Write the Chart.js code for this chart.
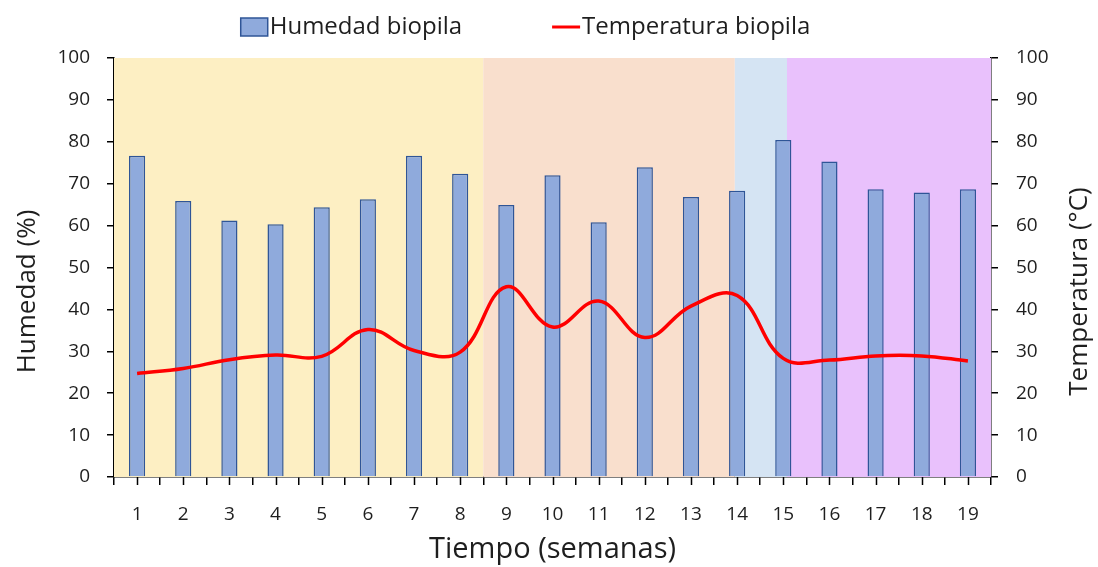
<!DOCTYPE html>
<html>
<head>
<meta charset="utf-8">
<script src="https://cdn.jsdelivr.net/npm/chart.js@4.4.1/dist/chart.umd.min.js"></script>
<style>
  html, body { margin: 0; padding: 0; background: #fff; }
  #wrap { width: 1098px; height: 567px; }
</style>
</head>
<body>
<div id="wrap"><canvas id="chartBiopila"></canvas></div>
<script>
const semanas = ['1', '2', '3', '4', '5', '6', '7', '8', '9', '10', '11', '12', '13', '14', '15', '16', '17', '18', '19'];
const humedad = [76.7, 65.9, 61.2, 60.3, 64.4, 66.3, 76.7, 72.4, 64.9, 72.0, 60.8, 73.9, 66.8, 68.3, 80.4, 75.3, 68.7, 67.9, 68.7];
const temperatura = [24.7, 25.9, 28.0, 29.1, 28.8, 35.2, 30.2, 29.8, 45.4, 35.8, 42.0, 33.3, 40.8, 43.3, 28.3, 27.9, 28.9, 28.9, 27.7];

// fases del proceso (en semanas)
const fasesInicio = [0.5, 8.5, 13.95, 15.08];
const fasesFin = [8.5, 13.95, 15.08, 19.5];
const fasesColor = ['#FDEFC3', '#F9DFCD', '#D5E4F3', '#E9C1FC'];

const fuente = "'Open Sans', sans-serif";
const colorTexto = '#1e1e1e';

const fondoFases = {
    id: 'fondoFases',
    beforeDatasetsDraw(chart) {
        const { ctx, chartArea, scales } = chart;
        ctx.save();
        for (let i = 0; i < fasesInicio.length; i++) {
            const x0 = scales.x.getPixelForValue(fasesInicio[i] - 1);
            const x1 = scales.x.getPixelForValue(fasesFin[i] - 1);
            ctx.fillStyle = fasesColor[i];
            ctx.fillRect(x0, chartArea.top, x1 - x0, chartArea.bottom - chartArea.top);
        }
        ctx.restore();
    }
};

// marcas pequeñas en el centro de cada semana
const marcasCentro = {
    id: 'marcasCentro',
    afterDraw(chart) {
        const { ctx, chartArea, scales } = chart;
        ctx.save();
        ctx.strokeStyle = '#000';
        ctx.lineWidth = 1.5;
        ctx.beginPath();
        semanas.forEach((s, i) => {
            const x = Math.round(scales.x.getPixelForValue(i)) + 0.5;
            ctx.moveTo(x, chartArea.bottom);
            ctx.lineTo(x, chartArea.bottom + 8);
        });
        ctx.stroke();
        ctx.restore();
    }
};

// titulos verticales (los dos leen de abajo hacia arriba, como en Excel)
const titulosY = {
    id: 'titulosY',
    afterDraw(chart) {
        const { ctx, chartArea } = chart;
        const yc = (chartArea.top + chartArea.bottom) / 2 + 24;
        ctx.save();
        ctx.font = `26px ${fuente}`;
        ctx.fillStyle = colorTexto;
        ctx.textAlign = 'center';
        ctx.textBaseline = 'middle';
        [['Humedad (%)', chartArea.left - 86], ['Temperatura (°C)', chartArea.right + 89]].forEach(([txt, xc]) => {
            ctx.save();
            ctx.translate(xc, yc);
            ctx.rotate(-Math.PI / 2);
            ctx.fillText(txt, 0, 0);
            ctx.restore();
        });
        ctx.restore();
    }
};

// leyenda arriba
const leyenda = {
    id: 'leyenda',
    afterDraw(chart) {
        const { ctx, chartArea } = chart;
        const bar = chart.data.datasets[1];
        const line = chart.data.datasets[0];
        const gap = 90;
        ctx.save();
        ctx.font = `24px ${fuente}`;
        ctx.textBaseline = 'middle';
        const w1 = ctx.measureText(bar.label).width;
        const w2 = ctx.measureText(line.label).width;
        const total = 27 + 3 + w1 + gap + 28 + 3 + w2;
        let x = (chartArea.left + chartArea.right) / 2 - 26 - total / 2;
        const y = 27;
        ctx.fillStyle = bar.backgroundColor;
        ctx.strokeStyle = bar.borderColor;
        ctx.lineWidth = 1.5;
        ctx.fillRect(x, y - 9, 27, 18);
        ctx.strokeRect(x, y - 9, 27, 18);
        x += 29;
        ctx.fillStyle = colorTexto;
        ctx.fillText(bar.label, x, y);
        x += w1 + gap;
        ctx.strokeStyle = line.borderColor;
        ctx.lineWidth = 3;
        ctx.beginPath();
        ctx.moveTo(x, y);
        ctx.lineTo(x + 28, y);
        ctx.stroke();
        x += 30;
        ctx.fillText(line.label, x, y);
        ctx.restore();
    }
};

const data = {
    labels: semanas,
    datasets: [{
        type: 'line',
        label: 'Temperatura biopila',
        data: temperatura,
        yAxisID: 'y1',
        borderColor: '#FF0000',
        backgroundColor: '#FF0000',
        borderWidth: 3.5,
        pointRadius: 0,
        tension: 0.4,
        order: 0
    }, {
        type: 'bar',
        label: 'Humedad biopila',
        data: humedad,
        yAxisID: 'y',
        backgroundColor: '#8FAADC',
        borderColor: '#2F5597',
        borderWidth: 1.5,
        categoryPercentage: 1,
        barPercentage: 0.35,
        order: 1
    }]
};

const config = {
    data: data,
    options: {
        responsive: true,
        maintainAspectRatio: false,
        animation: false,
        layout: { padding: { top: 58, right: 0, left: 0, bottom: 0 } },
        plugins: {
            legend: { display: false },
            tooltip: { enabled: false }
        },
        scales: {
            x: {
                type: 'category',
                offset: true,
                grid: { display: true, offset: true, drawOnChartArea: false, color: '#000', lineWidth: 1.5, tickLength: 8 },
                border: { color: '#000', width: 1.5 },
                ticks: { color: colorTexto, font: { family: fuente, size: 19 }, padding: 18, maxRotation: 0 },
                title: { display: true, text: 'Tiempo (semanas)', color: colorTexto, font: { family: fuente, size: 29 }, padding: { top: 0, bottom: 0 } },
                afterFit: (scale) => { scale.height = 90; }
            },
            y: {
                position: 'left',
                min: 0,
                max: 100,
                ticks: { stepSize: 10, color: colorTexto, font: { family: fuente, size: 19 }, padding: 17 },
                grid: { drawOnChartArea: false, color: '#000', lineWidth: 1.5, tickLength: 7 },
                border: { color: '#000', width: 1.5 },
                afterFit: (scale) => { scale.width = 114; }
            },
            y1: {
                position: 'right',
                min: 0,
                max: 100,
                ticks: { stepSize: 10, color: colorTexto, font: { family: fuente, size: 19 }, padding: 18 },
                grid: { drawOnChartArea: false, color: '#000', lineWidth: 1.5, tickLength: 7 },
                border: { color: '#000', width: 1.5 },
                afterFit: (scale) => { scale.width = 107; }
            }
        }
    },
    plugins: [fondoFases, marcasCentro, titulosY, leyenda]
};

const myChart = new Chart(document.getElementById('chartBiopila'), config);
</script>
</body>
</html>
